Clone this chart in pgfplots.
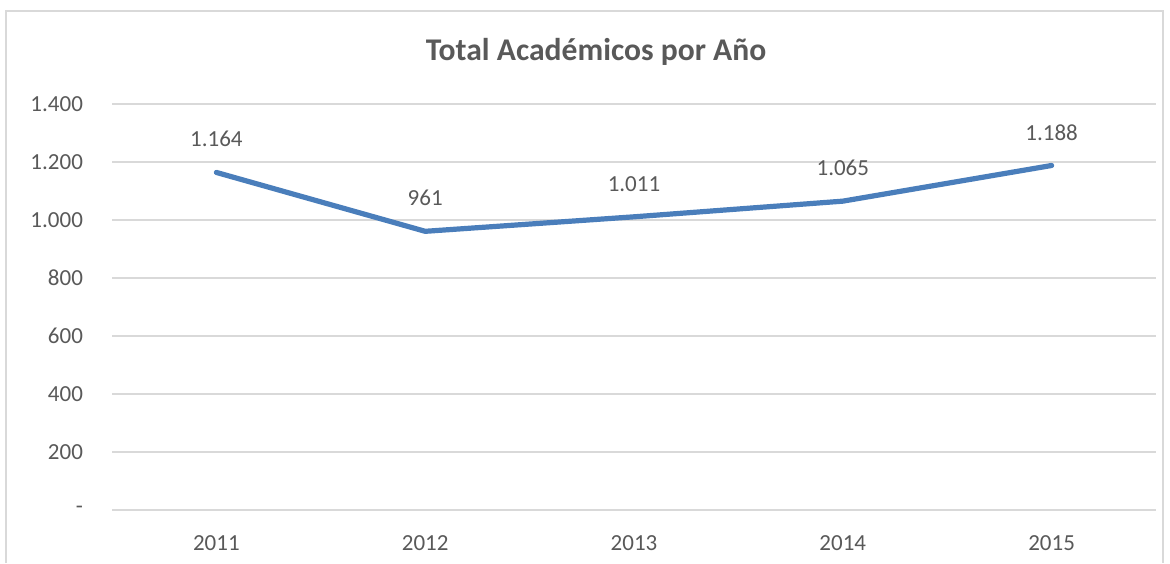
\documentclass[border=0pt]{standalone}
\usepackage{pgfplots}
\pgfplotsset{compat=1.18}
\usepackage{fontspec}
\setmainfont{Carlito}
\definecolor{txt}{HTML}{595959}
\definecolor{gridc}{HTML}{D9D9D9}
\definecolor{lineblue}{HTML}{4A7EBB}
\begin{document}
\begin{tikzpicture}[x=0.5pt,y=0.5pt]
\useasboundingbox (0,0) rectangle (1170,563);
\draw[gridc, line width=0.8pt] (6,0) -- (6,552) -- (1163,552) -- (1163,0);
\node[text=txt, font=\fontsize{15.8pt}{18pt}\selectfont\bfseries] at (596,511) {Total Académicos por Año};
\begin{axis}[
  at={(56pt,26.5pt)}, anchor=south west,
  scale only axis, width=522pt, height=203pt,
  xmin=-0.5, xmax=4.5, ymin=0, ymax=1400,
  xtick={0,1,2,3,4}, xticklabels={2011,2012,2013,2014,2015},
  ytick={0,200,400,600,800,1000,1200,1400},
  yticklabels={-\hspace{6pt},200,400,600,800,1.000,1.200,1.400},
  axis line style={draw=none},
  tick style={draw=none},
  ymajorgrids, grid style={gridc, line width=0.8pt},
  ticklabel style={text=txt, font=\fontsize{11.5pt}{13pt}\selectfont},
  /pgf/number format/assume math mode=true,
  xticklabel style={yshift=-9pt},
  yticklabel style={xshift=-11pt},
  clip=false,
]
\addplot[lineblue, line width=2.6pt, line join=round, line cap=round,
  nodes near coords, point meta=explicit symbolic,
  every node near coord/.style={anchor=south, yshift=8pt, text=txt, font=\fontsize{11.5pt}{13pt}\selectfont}]
  coordinates {(0,1164) [1.164] (1,961) [961] (2,1011) [1.011] (3,1065) [1.065] (4,1188) [1.188]};
\end{axis}
\end{tikzpicture}
\end{document}
